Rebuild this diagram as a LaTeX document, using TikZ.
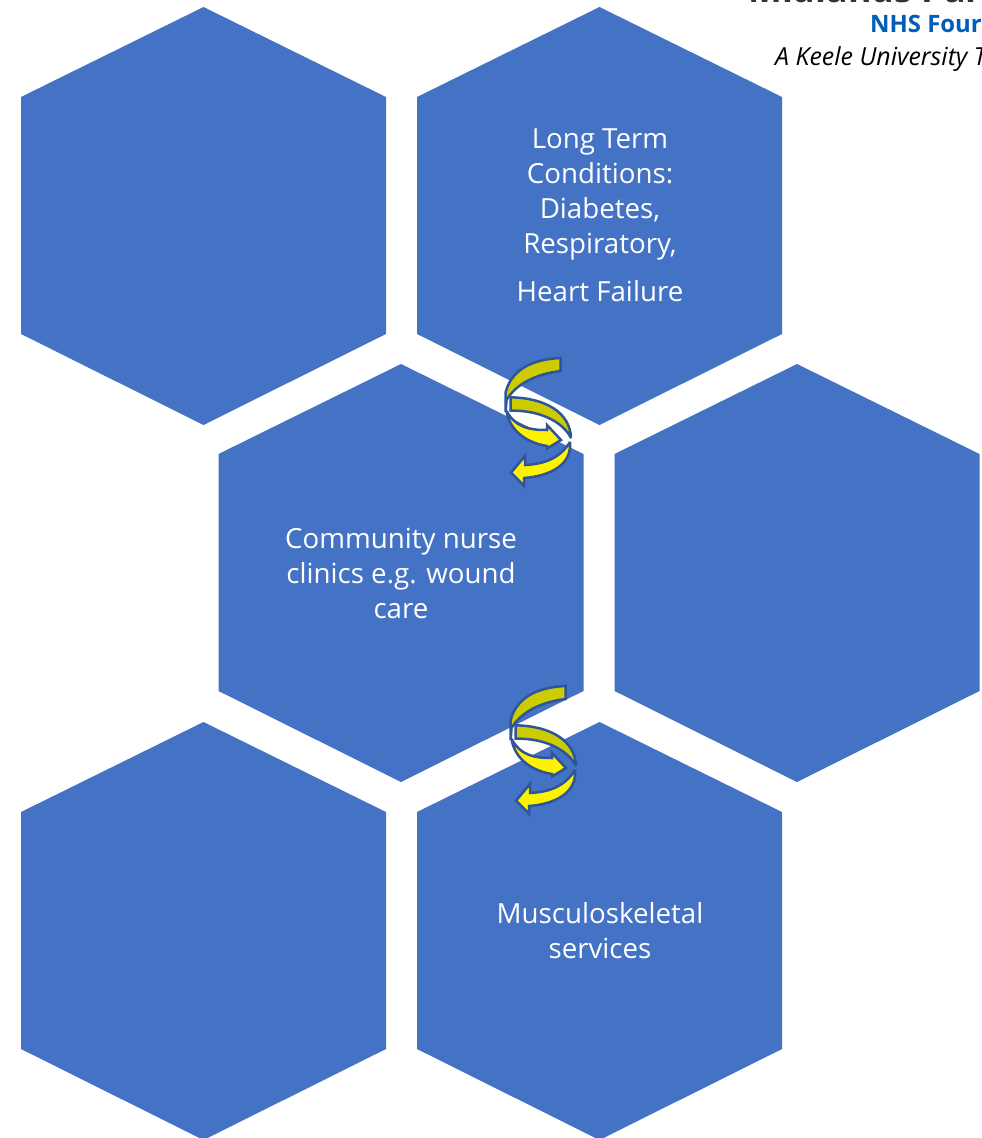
\documentclass[tikz,border=0pt]{standalone}
\usepackage{fontspec}
\setmainfont{Open Sans}
\usetikzlibrary{positioning}
\definecolor{hexblue}{HTML}{4472C4}
\definecolor{swirlline}{HTML}{2F5597}
\definecolor{swirldark}{HTML}{CCCC00}
\definecolor{nhsblue}{HTML}{005EB8}
\tikzset{
  hexcell/.style={fill=hexblue},
  cell text/.style={text=white, align=center, inner sep=0pt,
    font=\fontsize{27.8}{35}\selectfont},
  logo text/.style={anchor=base west, inner sep=0pt},
  swirl band/.style={draw=swirlline, line width=2.5bp, line join=miter, miter limit=3, fill=#1},
  pics/swirl/.style={code={
    \draw[swirl band=swirldark] (90.7,18) .. controls (65,19) and (42,28) .. (35.7,52)
      -- (35.7,72) -- (36.5,60) .. controls (46,44) and (66,34) .. (90.7,31) -- cycle;
    \draw[swirl band=yellow] (36.5,71) .. controls (46,88) and (60,90) .. (77,90)
      -- (77,85) -- (91,100) -- (77,108.5) -- (77,106)
      .. controls (58,103) and (40,92) .. (36.5,71) -- cycle;
    \draw[swirl band=swirldark] (40.7,57.3) .. controls (75,58) and (100,72) .. (101,98)
      .. controls (93,82) and (70,70) .. (40.7,70.7) -- cycle;
    \draw[swirl band=yellow] (100,102) .. controls (90,118) and (75,124) .. (55,125)
      -- (55,116) -- (41,132.7) -- (54,145.5) -- (54,138)
      .. controls (80,136) and (102,125) .. (100,102) -- cycle;
  }}
}
\begin{document}
\begin{tikzpicture}[x=1bp,y=-1bp]
  \useasboundingbox (0,0) rectangle (982,1138);
  \begin{scope}
    \clip (0,0) rectangle (982,1138);
    \node[logo text, font=\fontsize{36}{36}\selectfont\bfseries, text=black!80] (logotrust) at (748,2) {Midlands Par};
    \node[logo text, font=\fontsize{24}{24}\selectfont\bfseries, text=nhsblue] (logonhs) at (870,32) {NHS Four};
    \node[logo text, font=\fontsize{25}{25}\selectfont\itshape] (logokeele) at (775,65) {A Keele University T};
    \foreach \cx/\ty in {203.5/7,599.5/7,401/364,797/364,203.5/722,599.5/722}
      \fill[hexcell] (\cx,\ty) -- ++(182.5,90) -- ++(0,237) -- ++(-182.5,91) -- ++(-182.5,-91) -- ++(0,-237) -- cycle;
  \end{scope}
  \node[cell text] (longterm) at (600,215.5) {Long Term\\Conditions:\\Diabetes,\\Respiratory,\\[14bp]Heart Failure};
  \node[cell text] (community) at (401,573.5) {Community nurse\\clinics e.g. wound\\care};
  \node[cell text] (musculo) at (600,931) {Musculoskeletal\\services};
  \pic at (470,340) {swirl};
  \pic at (475,668) {swirl};
\end{tikzpicture}
\end{document}
